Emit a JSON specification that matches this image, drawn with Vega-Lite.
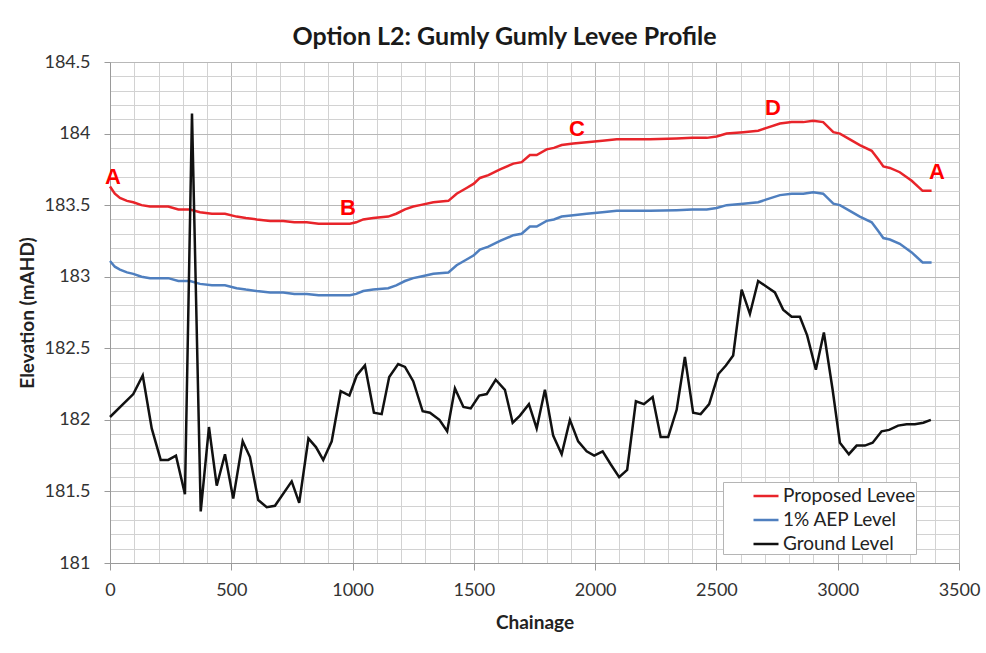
{
  "$schema": "https://vega.github.io/schema/vega-lite/v6.json",
  "width": 849,
  "height": 501,
  "autosize": "none",
  "padding": {"left": 110, "top": 62, "right": 27, "bottom": 90},
  "background": "white",
  "config": {
    "view": {"stroke": null},
    "font": "Lato"
  },
  "title": {
    "text": "Option L2: Gumly Gumly Levee Profile",
    "font": "Lato",
    "fontSize": 25,
    "fontWeight": "bold",
    "color": "#1a1a1a",
    "anchor": "middle",
    "dx": -30,
    "offset": 3
  },
  "datasets": {
    "levels": [
      {"chainage": 0, "elevation": 183.63, "series": "Proposed Levee"},
      {"chainage": 20, "elevation": 183.58, "series": "Proposed Levee"},
      {"chainage": 41, "elevation": 183.55, "series": "Proposed Levee"},
      {"chainage": 70, "elevation": 183.53, "series": "Proposed Levee"},
      {"chainage": 96, "elevation": 183.52, "series": "Proposed Levee"},
      {"chainage": 130, "elevation": 183.5, "series": "Proposed Levee"},
      {"chainage": 165, "elevation": 183.49, "series": "Proposed Levee"},
      {"chainage": 240, "elevation": 183.49, "series": "Proposed Levee"},
      {"chainage": 282, "elevation": 183.47, "series": "Proposed Levee"},
      {"chainage": 330, "elevation": 183.47, "series": "Proposed Levee"},
      {"chainage": 371, "elevation": 183.45, "series": "Proposed Levee"},
      {"chainage": 420, "elevation": 183.44, "series": "Proposed Levee"},
      {"chainage": 474, "elevation": 183.44, "series": "Proposed Levee"},
      {"chainage": 522, "elevation": 183.42, "series": "Proposed Levee"},
      {"chainage": 560, "elevation": 183.41, "series": "Proposed Levee"},
      {"chainage": 605, "elevation": 183.4, "series": "Proposed Levee"},
      {"chainage": 660, "elevation": 183.39, "series": "Proposed Levee"},
      {"chainage": 714, "elevation": 183.39, "series": "Proposed Levee"},
      {"chainage": 760, "elevation": 183.38, "series": "Proposed Levee"},
      {"chainage": 811, "elevation": 183.38, "series": "Proposed Levee"},
      {"chainage": 860, "elevation": 183.37, "series": "Proposed Levee"},
      {"chainage": 907, "elevation": 183.37, "series": "Proposed Levee"},
      {"chainage": 950, "elevation": 183.37, "series": "Proposed Levee"},
      {"chainage": 989, "elevation": 183.37, "series": "Proposed Levee"},
      {"chainage": 1015, "elevation": 183.38, "series": "Proposed Levee"},
      {"chainage": 1044, "elevation": 183.4, "series": "Proposed Levee"},
      {"chainage": 1085, "elevation": 183.41, "series": "Proposed Levee"},
      {"chainage": 1147, "elevation": 183.42, "series": "Proposed Levee"},
      {"chainage": 1180, "elevation": 183.44, "series": "Proposed Levee"},
      {"chainage": 1216, "elevation": 183.47, "series": "Proposed Levee"},
      {"chainage": 1250, "elevation": 183.49, "series": "Proposed Levee"},
      {"chainage": 1278, "elevation": 183.5, "series": "Proposed Levee"},
      {"chainage": 1333, "elevation": 183.52, "series": "Proposed Levee"},
      {"chainage": 1395, "elevation": 183.53, "series": "Proposed Levee"},
      {"chainage": 1429, "elevation": 183.58, "series": "Proposed Levee"},
      {"chainage": 1470, "elevation": 183.62, "series": "Proposed Levee"},
      {"chainage": 1500, "elevation": 183.65, "series": "Proposed Levee"},
      {"chainage": 1525, "elevation": 183.69, "series": "Proposed Levee"},
      {"chainage": 1560, "elevation": 183.71, "series": "Proposed Levee"},
      {"chainage": 1608, "elevation": 183.75, "series": "Proposed Levee"},
      {"chainage": 1663, "elevation": 183.79, "series": "Proposed Levee"},
      {"chainage": 1697, "elevation": 183.8, "series": "Proposed Levee"},
      {"chainage": 1731, "elevation": 183.85, "series": "Proposed Levee"},
      {"chainage": 1759, "elevation": 183.85, "series": "Proposed Levee"},
      {"chainage": 1800, "elevation": 183.89, "series": "Proposed Levee"},
      {"chainage": 1830, "elevation": 183.9, "series": "Proposed Levee"},
      {"chainage": 1862, "elevation": 183.92, "series": "Proposed Levee"},
      {"chainage": 1910, "elevation": 183.93, "series": "Proposed Levee"},
      {"chainage": 1965, "elevation": 183.94, "series": "Proposed Levee"},
      {"chainage": 2030, "elevation": 183.95, "series": "Proposed Levee"},
      {"chainage": 2089, "elevation": 183.96, "series": "Proposed Levee"},
      {"chainage": 2226, "elevation": 183.96, "series": "Proposed Levee"},
      {"chainage": 2336, "elevation": 183.965, "series": "Proposed Levee"},
      {"chainage": 2400, "elevation": 183.97, "series": "Proposed Levee"},
      {"chainage": 2460, "elevation": 183.97, "series": "Proposed Levee"},
      {"chainage": 2501, "elevation": 183.98, "series": "Proposed Levee"},
      {"chainage": 2542, "elevation": 184.0, "series": "Proposed Levee"},
      {"chainage": 2611, "elevation": 184.01, "series": "Proposed Levee"},
      {"chainage": 2672, "elevation": 184.02, "series": "Proposed Levee"},
      {"chainage": 2707, "elevation": 184.04, "series": "Proposed Levee"},
      {"chainage": 2762, "elevation": 184.07, "series": "Proposed Levee"},
      {"chainage": 2810, "elevation": 184.08, "series": "Proposed Levee"},
      {"chainage": 2858, "elevation": 184.08, "series": "Proposed Levee"},
      {"chainage": 2899, "elevation": 184.09, "series": "Proposed Levee"},
      {"chainage": 2940, "elevation": 184.08, "series": "Proposed Levee"},
      {"chainage": 2982, "elevation": 184.01, "series": "Proposed Levee"},
      {"chainage": 3009, "elevation": 184.0, "series": "Proposed Levee"},
      {"chainage": 3050, "elevation": 183.96, "series": "Proposed Levee"},
      {"chainage": 3091, "elevation": 183.92, "series": "Proposed Levee"},
      {"chainage": 3140, "elevation": 183.88, "series": "Proposed Levee"},
      {"chainage": 3167, "elevation": 183.82, "series": "Proposed Levee"},
      {"chainage": 3188, "elevation": 183.77, "series": "Proposed Levee"},
      {"chainage": 3215, "elevation": 183.76, "series": "Proposed Levee"},
      {"chainage": 3256, "elevation": 183.73, "series": "Proposed Levee"},
      {"chainage": 3305, "elevation": 183.67, "series": "Proposed Levee"},
      {"chainage": 3350, "elevation": 183.6, "series": "Proposed Levee"},
      {"chainage": 3387, "elevation": 183.6, "series": "Proposed Levee"},

      {"chainage": 0, "elevation": 183.11, "series": "1% AEP Level"},
      {"chainage": 20, "elevation": 183.07, "series": "1% AEP Level"},
      {"chainage": 41, "elevation": 183.05, "series": "1% AEP Level"},
      {"chainage": 70, "elevation": 183.03, "series": "1% AEP Level"},
      {"chainage": 96, "elevation": 183.02, "series": "1% AEP Level"},
      {"chainage": 130, "elevation": 183.0, "series": "1% AEP Level"},
      {"chainage": 165, "elevation": 182.99, "series": "1% AEP Level"},
      {"chainage": 240, "elevation": 182.99, "series": "1% AEP Level"},
      {"chainage": 282, "elevation": 182.97, "series": "1% AEP Level"},
      {"chainage": 330, "elevation": 182.97, "series": "1% AEP Level"},
      {"chainage": 371, "elevation": 182.95, "series": "1% AEP Level"},
      {"chainage": 420, "elevation": 182.94, "series": "1% AEP Level"},
      {"chainage": 474, "elevation": 182.94, "series": "1% AEP Level"},
      {"chainage": 522, "elevation": 182.92, "series": "1% AEP Level"},
      {"chainage": 560, "elevation": 182.91, "series": "1% AEP Level"},
      {"chainage": 605, "elevation": 182.9, "series": "1% AEP Level"},
      {"chainage": 660, "elevation": 182.89, "series": "1% AEP Level"},
      {"chainage": 714, "elevation": 182.89, "series": "1% AEP Level"},
      {"chainage": 760, "elevation": 182.88, "series": "1% AEP Level"},
      {"chainage": 811, "elevation": 182.88, "series": "1% AEP Level"},
      {"chainage": 860, "elevation": 182.87, "series": "1% AEP Level"},
      {"chainage": 907, "elevation": 182.87, "series": "1% AEP Level"},
      {"chainage": 950, "elevation": 182.87, "series": "1% AEP Level"},
      {"chainage": 989, "elevation": 182.87, "series": "1% AEP Level"},
      {"chainage": 1015, "elevation": 182.88, "series": "1% AEP Level"},
      {"chainage": 1044, "elevation": 182.9, "series": "1% AEP Level"},
      {"chainage": 1085, "elevation": 182.91, "series": "1% AEP Level"},
      {"chainage": 1147, "elevation": 182.92, "series": "1% AEP Level"},
      {"chainage": 1180, "elevation": 182.94, "series": "1% AEP Level"},
      {"chainage": 1216, "elevation": 182.97, "series": "1% AEP Level"},
      {"chainage": 1250, "elevation": 182.99, "series": "1% AEP Level"},
      {"chainage": 1278, "elevation": 183.0, "series": "1% AEP Level"},
      {"chainage": 1333, "elevation": 183.02, "series": "1% AEP Level"},
      {"chainage": 1395, "elevation": 183.03, "series": "1% AEP Level"},
      {"chainage": 1429, "elevation": 183.08, "series": "1% AEP Level"},
      {"chainage": 1470, "elevation": 183.12, "series": "1% AEP Level"},
      {"chainage": 1500, "elevation": 183.15, "series": "1% AEP Level"},
      {"chainage": 1525, "elevation": 183.19, "series": "1% AEP Level"},
      {"chainage": 1560, "elevation": 183.21, "series": "1% AEP Level"},
      {"chainage": 1608, "elevation": 183.25, "series": "1% AEP Level"},
      {"chainage": 1663, "elevation": 183.29, "series": "1% AEP Level"},
      {"chainage": 1697, "elevation": 183.3, "series": "1% AEP Level"},
      {"chainage": 1731, "elevation": 183.35, "series": "1% AEP Level"},
      {"chainage": 1759, "elevation": 183.35, "series": "1% AEP Level"},
      {"chainage": 1800, "elevation": 183.39, "series": "1% AEP Level"},
      {"chainage": 1830, "elevation": 183.4, "series": "1% AEP Level"},
      {"chainage": 1862, "elevation": 183.42, "series": "1% AEP Level"},
      {"chainage": 1910, "elevation": 183.43, "series": "1% AEP Level"},
      {"chainage": 1965, "elevation": 183.44, "series": "1% AEP Level"},
      {"chainage": 2030, "elevation": 183.45, "series": "1% AEP Level"},
      {"chainage": 2089, "elevation": 183.46, "series": "1% AEP Level"},
      {"chainage": 2226, "elevation": 183.46, "series": "1% AEP Level"},
      {"chainage": 2336, "elevation": 183.465, "series": "1% AEP Level"},
      {"chainage": 2400, "elevation": 183.47, "series": "1% AEP Level"},
      {"chainage": 2460, "elevation": 183.47, "series": "1% AEP Level"},
      {"chainage": 2501, "elevation": 183.48, "series": "1% AEP Level"},
      {"chainage": 2542, "elevation": 183.5, "series": "1% AEP Level"},
      {"chainage": 2611, "elevation": 183.51, "series": "1% AEP Level"},
      {"chainage": 2672, "elevation": 183.52, "series": "1% AEP Level"},
      {"chainage": 2707, "elevation": 183.54, "series": "1% AEP Level"},
      {"chainage": 2762, "elevation": 183.57, "series": "1% AEP Level"},
      {"chainage": 2810, "elevation": 183.58, "series": "1% AEP Level"},
      {"chainage": 2858, "elevation": 183.58, "series": "1% AEP Level"},
      {"chainage": 2899, "elevation": 183.59, "series": "1% AEP Level"},
      {"chainage": 2940, "elevation": 183.58, "series": "1% AEP Level"},
      {"chainage": 2982, "elevation": 183.51, "series": "1% AEP Level"},
      {"chainage": 3009, "elevation": 183.5, "series": "1% AEP Level"},
      {"chainage": 3050, "elevation": 183.46, "series": "1% AEP Level"},
      {"chainage": 3091, "elevation": 183.42, "series": "1% AEP Level"},
      {"chainage": 3140, "elevation": 183.38, "series": "1% AEP Level"},
      {"chainage": 3167, "elevation": 183.32, "series": "1% AEP Level"},
      {"chainage": 3188, "elevation": 183.27, "series": "1% AEP Level"},
      {"chainage": 3215, "elevation": 183.26, "series": "1% AEP Level"},
      {"chainage": 3256, "elevation": 183.23, "series": "1% AEP Level"},
      {"chainage": 3305, "elevation": 183.17, "series": "1% AEP Level"},
      {"chainage": 3350, "elevation": 183.1, "series": "1% AEP Level"},
      {"chainage": 3387, "elevation": 183.1, "series": "1% AEP Level"},

      {"chainage": 0, "elevation": 182.02, "series": "Ground Level"},
      {"chainage": 96, "elevation": 182.18, "series": "Ground Level"},
      {"chainage": 135, "elevation": 182.31, "series": "Ground Level"},
      {"chainage": 172, "elevation": 181.94, "series": "Ground Level"},
      {"chainage": 209, "elevation": 181.72, "series": "Ground Level"},
      {"chainage": 240, "elevation": 181.72, "series": "Ground Level"},
      {"chainage": 272, "elevation": 181.75, "series": "Ground Level"},
      {"chainage": 309, "elevation": 181.48, "series": "Ground Level"},
      {"chainage": 338, "elevation": 184.14, "series": "Ground Level"},
      {"chainage": 374, "elevation": 181.36, "series": "Ground Level"},
      {"chainage": 408, "elevation": 181.95, "series": "Ground Level"},
      {"chainage": 440, "elevation": 181.54, "series": "Ground Level"},
      {"chainage": 474, "elevation": 181.76, "series": "Ground Level"},
      {"chainage": 508, "elevation": 181.45, "series": "Ground Level"},
      {"chainage": 547, "elevation": 181.85, "series": "Ground Level"},
      {"chainage": 577, "elevation": 181.74, "series": "Ground Level"},
      {"chainage": 611, "elevation": 181.44, "series": "Ground Level"},
      {"chainage": 646, "elevation": 181.39, "series": "Ground Level"},
      {"chainage": 680, "elevation": 181.4, "series": "Ground Level"},
      {"chainage": 749, "elevation": 181.57, "series": "Ground Level"},
      {"chainage": 780, "elevation": 181.42, "series": "Ground Level"},
      {"chainage": 818, "elevation": 181.87, "series": "Ground Level"},
      {"chainage": 849, "elevation": 181.81, "series": "Ground Level"},
      {"chainage": 879, "elevation": 181.72, "series": "Ground Level"},
      {"chainage": 914, "elevation": 181.85, "series": "Ground Level"},
      {"chainage": 951, "elevation": 182.2, "series": "Ground Level"},
      {"chainage": 987, "elevation": 182.17, "series": "Ground Level"},
      {"chainage": 1017, "elevation": 182.31, "series": "Ground Level"},
      {"chainage": 1051, "elevation": 182.38, "series": "Ground Level"},
      {"chainage": 1088, "elevation": 182.05, "series": "Ground Level"},
      {"chainage": 1120, "elevation": 182.04, "series": "Ground Level"},
      {"chainage": 1151, "elevation": 182.3, "series": "Ground Level"},
      {"chainage": 1188, "elevation": 182.39, "series": "Ground Level"},
      {"chainage": 1216, "elevation": 182.37, "series": "Ground Level"},
      {"chainage": 1250, "elevation": 182.27, "series": "Ground Level"},
      {"chainage": 1289, "elevation": 182.06, "series": "Ground Level"},
      {"chainage": 1319, "elevation": 182.05, "series": "Ground Level"},
      {"chainage": 1358, "elevation": 182.0, "series": "Ground Level"},
      {"chainage": 1390, "elevation": 181.92, "series": "Ground Level"},
      {"chainage": 1422, "elevation": 182.22, "series": "Ground Level"},
      {"chainage": 1457, "elevation": 182.09, "series": "Ground Level"},
      {"chainage": 1487, "elevation": 182.08, "series": "Ground Level"},
      {"chainage": 1522, "elevation": 182.17, "series": "Ground Level"},
      {"chainage": 1553, "elevation": 182.18, "series": "Ground Level"},
      {"chainage": 1590, "elevation": 182.28, "series": "Ground Level"},
      {"chainage": 1628, "elevation": 182.21, "series": "Ground Level"},
      {"chainage": 1660, "elevation": 181.98, "series": "Ground Level"},
      {"chainage": 1690, "elevation": 182.03, "series": "Ground Level"},
      {"chainage": 1727, "elevation": 182.11, "series": "Ground Level"},
      {"chainage": 1759, "elevation": 181.94, "series": "Ground Level"},
      {"chainage": 1793, "elevation": 182.21, "series": "Ground Level"},
      {"chainage": 1827, "elevation": 181.89, "series": "Ground Level"},
      {"chainage": 1862, "elevation": 181.76, "series": "Ground Level"},
      {"chainage": 1896, "elevation": 182.0, "series": "Ground Level"},
      {"chainage": 1930, "elevation": 181.85, "series": "Ground Level"},
      {"chainage": 1965, "elevation": 181.78, "series": "Ground Level"},
      {"chainage": 1996, "elevation": 181.75, "series": "Ground Level"},
      {"chainage": 2031, "elevation": 181.78, "series": "Ground Level"},
      {"chainage": 2064, "elevation": 181.69, "series": "Ground Level"},
      {"chainage": 2099, "elevation": 181.6, "series": "Ground Level"},
      {"chainage": 2132, "elevation": 181.65, "series": "Ground Level"},
      {"chainage": 2168, "elevation": 182.13, "series": "Ground Level"},
      {"chainage": 2201, "elevation": 182.11, "series": "Ground Level"},
      {"chainage": 2237, "elevation": 182.16, "series": "Ground Level"},
      {"chainage": 2270, "elevation": 181.88, "series": "Ground Level"},
      {"chainage": 2301, "elevation": 181.88, "series": "Ground Level"},
      {"chainage": 2336, "elevation": 182.07, "series": "Ground Level"},
      {"chainage": 2370, "elevation": 182.44, "series": "Ground Level"},
      {"chainage": 2404, "elevation": 182.05, "series": "Ground Level"},
      {"chainage": 2435, "elevation": 182.04, "series": "Ground Level"},
      {"chainage": 2470, "elevation": 182.11, "series": "Ground Level"},
      {"chainage": 2508, "elevation": 182.32, "series": "Ground Level"},
      {"chainage": 2539, "elevation": 182.38, "series": "Ground Level"},
      {"chainage": 2569, "elevation": 182.45, "series": "Ground Level"},
      {"chainage": 2604, "elevation": 182.91, "series": "Ground Level"},
      {"chainage": 2638, "elevation": 182.74, "series": "Ground Level"},
      {"chainage": 2672, "elevation": 182.97, "series": "Ground Level"},
      {"chainage": 2707, "elevation": 182.93, "series": "Ground Level"},
      {"chainage": 2741, "elevation": 182.89, "series": "Ground Level"},
      {"chainage": 2775, "elevation": 182.77, "series": "Ground Level"},
      {"chainage": 2810, "elevation": 182.72, "series": "Ground Level"},
      {"chainage": 2844, "elevation": 182.72, "series": "Ground Level"},
      {"chainage": 2874, "elevation": 182.59, "series": "Ground Level"},
      {"chainage": 2910, "elevation": 182.35, "series": "Ground Level"},
      {"chainage": 2943, "elevation": 182.61, "series": "Ground Level"},
      {"chainage": 2979, "elevation": 182.21, "series": "Ground Level"},
      {"chainage": 3009, "elevation": 181.84, "series": "Ground Level"},
      {"chainage": 3046, "elevation": 181.76, "series": "Ground Level"},
      {"chainage": 3078, "elevation": 181.82, "series": "Ground Level"},
      {"chainage": 3112, "elevation": 181.82, "series": "Ground Level"},
      {"chainage": 3144, "elevation": 181.84, "series": "Ground Level"},
      {"chainage": 3181, "elevation": 181.92, "series": "Ground Level"},
      {"chainage": 3212, "elevation": 181.93, "series": "Ground Level"},
      {"chainage": 3249, "elevation": 181.96, "series": "Ground Level"},
      {"chainage": 3284, "elevation": 181.97, "series": "Ground Level"},
      {"chainage": 3318, "elevation": 181.97, "series": "Ground Level"},
      {"chainage": 3353, "elevation": 181.98, "series": "Ground Level"},
      {"chainage": 3384, "elevation": 182.0, "series": "Ground Level"}
    ],
    "labels": [
      {"chainage": 12, "elevation": 183.70, "label": "A"},
      {"chainage": 981, "elevation": 183.48, "label": "B"},
      {"chainage": 1925, "elevation": 184.03, "label": "C"},
      {"chainage": 2733, "elevation": 184.18, "label": "D"},
      {"chainage": 3409, "elevation": 183.73, "label": "A"}
    ]
  },
  "encoding": {
    "x": {
      "field": "chainage",
      "type": "quantitative",
      "scale": {"domain": [0, 3500], "nice": false, "zero": false},
      "axis": {
        "title": "Chainage",
        "values": [0,100,200,300,400,500,600,700,800,900,1000,1100,1200,1300,1400,1500,1600,1700,1800,1900,2000,2100,2200,2300,2400,2500,2600,2700,2800,2900,3000,3100,3200,3300,3400,3500],
        "labelExpr": "datum.value % 500 === 0 ? format(datum.value, 'd') : ''",
        "grid": true,
        "gridColor": {"condition": {"test": "datum.value % 500 === 0", "value": "#b8b8b8"}, "value": "#d2d2d2"},
        "gridWidth": 1,
        "tickOpacity": {"condition": {"test": "datum.value % 500 === 0", "value": 1}, "value": 0},
        "tickColor": "#9a9a9a",
        "tickSize": 7,
        "domainColor": "#9a9a9a",
        "labelFont": "Lato",
        "labelFontSize": 18,
        "labelColor": "#333333",
        "labelPadding": 11,
        "labelFlush": false,
        "labelOverlap": false,
        "titleFont": "Lato",
        "titleFontSize": 19,
        "titleFontWeight": "bold",
        "titleColor": "#222222",
        "titlePadding": 14
      }
    },
    "y": {
      "field": "elevation",
      "type": "quantitative",
      "scale": {"domain": [181, 184.5], "nice": false, "zero": false},
      "axis": {
        "title": "Elevation (mAHD)",
        "values": [181,181.1,181.2,181.3,181.4,181.5,181.6,181.7,181.8,181.9,182,182.1,182.2,182.3,182.4,182.5,182.6,182.7,182.8,182.9,183,183.1,183.2,183.3,183.4,183.5,183.6,183.7,183.8,183.9,184,184.1,184.2,184.3,184.4,184.5],
        "labelExpr": "abs(datum.value * 2 - round(datum.value * 2)) < 0.001 ? format(datum.value, '~f') : ''",
        "grid": true,
        "gridColor": {"condition": {"test": "abs(datum.value * 2 - round(datum.value * 2)) < 0.001", "value": "#b8b8b8"}, "value": "#d2d2d2"},
        "gridWidth": 1,
        "tickOpacity": {"condition": {"test": "abs(datum.value * 2 - round(datum.value * 2)) < 0.001", "value": 1}, "value": 0},
        "tickColor": "#9a9a9a",
        "tickSize": 6,
        "domainColor": "#9a9a9a",
        "labelFont": "Lato",
        "labelFontSize": 18,
        "labelColor": "#333333",
        "labelPadding": 14,
        "labelFlush": false,
        "labelOverlap": false,
        "titleFont": "Lato",
        "titleFontSize": 19,
        "titleFontWeight": "bold",
        "titleColor": "#222222",
        "titlePadding": 6
      }
    }
  },
  "layer": [
    {
      "data": {"name": "levels"},
      "transform": [{"filter": "datum.series === 'Proposed Levee'"}],
      "mark": {"type": "line", "strokeWidth": 2.5, "interpolate": "linear"},
      "encoding": {
        "color": {
          "field": "series",
          "type": "nominal",
          "scale": {"domain": ["Proposed Levee", "1% AEP Level", "Ground Level"], "range": ["#e8242a", "#4f7fbf", "#111111"]},
          "legend": {
            "title": null,
            "orient": "none",
            "legendX": 613,
            "legendY": 420,
            "fillColor": "white",
            "strokeColor": "#b5b5b5",
            "padding": 0,
            "symbolType": "stroke",
            "symbolSize": 625,
            "symbolStrokeWidth": 2.5,
            "symbolOffset": 29,
            "labelOffset": 3,
            "labelFont": "Lato",
            "labelFontSize": 19,
            "labelColor": "#222222",
            "labelExpr": "datum.label + '\u00a0\u00a0\u00a0\u00a0\u00a0'",
            "rowPadding": 0
          }
        }
      }
    },
    {
      "data": {"name": "levels"},
      "transform": [{"filter": "datum.series === '1% AEP Level'"}],
      "mark": {"type": "line", "strokeWidth": 2.5},
      "encoding": {"color": {"field": "series", "type": "nominal"}}
    },
    {
      "data": {"name": "levels"},
      "transform": [{"filter": "datum.series === 'Ground Level'"}],
      "mark": {"type": "line", "strokeWidth": 2.5},
      "encoding": {"color": {"field": "series", "type": "nominal"}}
    },
    {
      "data": {"name": "labels"},
      "mark": {"type": "text", "font": "Liberation Sans", "fontSize": 22, "fontWeight": "bold", "color": "#ff0000", "align": "center", "baseline": "middle"},
      "encoding": {"text": {"field": "label", "type": "nominal"}}
    }
  ]
}
